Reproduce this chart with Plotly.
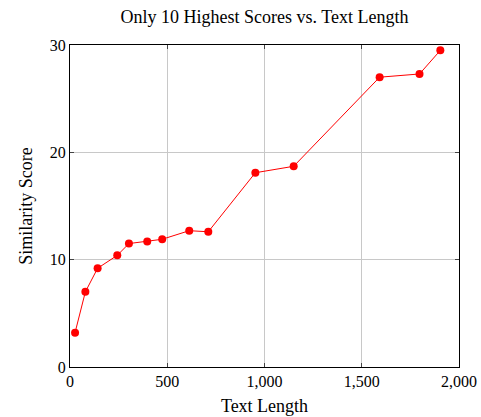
import plotly.graph_objects as go

text_length = [26, 79, 142, 243, 303, 397, 474, 613, 711, 953, 1150, 1592, 1797, 1904]
similarity = [3.2, 7.0, 9.2, 10.4, 11.5, 11.7, 11.9, 12.7, 12.6, 18.1, 18.7, 27.0, 27.3, 29.5]
x_ticks = [0, 500, 1000, 1500, 2000]
y_ticks = [0, 10, 20, 30]

font = "Liberation Serif"
W, H = 481, 417

fig = go.Figure(go.Scatter(
    x=text_length, y=similarity, mode="lines+markers",
    line=dict(color="red", width=1),
    marker=dict(color="red", size=8),
))

axis_common = dict(
    showline=True, linecolor="black", linewidth=1, mirror="allticks",
    ticks="inside", ticklen=4, tickcolor="#444",
    showgrid=True, gridcolor="#c8c8c8", gridwidth=1,
    zeroline=False, automargin=False,
    tickfont=dict(family=font, size=16, color="black"),
)

fig.update_layout(
    width=W, height=H,
    margin=dict(l=70, r=22, t=45, b=50),
    paper_bgcolor="white", plot_bgcolor="white",
    showlegend=False,
    title=dict(text="Only 10 Highest Scores vs. Text Length", x=0.5, xanchor="center",
               xref="paper", y=1 - 17/H, yanchor="middle", automargin=False,
               font=dict(family=font, size=18, color="black")),
    xaxis=dict(range=[0, 2000], tickvals=x_ticks, tickformat=",d",
               title=dict(text="Text Length", font=dict(family=font, size=18, color="black"), standoff=10),
               **axis_common),
    yaxis=dict(range=[0, 30], tickvals=y_ticks,
               title=dict(text="Similarity Score", font=dict(family=font, size=18, color="black"), standoff=12),
               **axis_common),
)

fig.write_html(
    "out.html",
    config={"displayModeBar": False},
    post_script="document.body.style.margin='0';document.body.style.overflow='hidden';",
)
